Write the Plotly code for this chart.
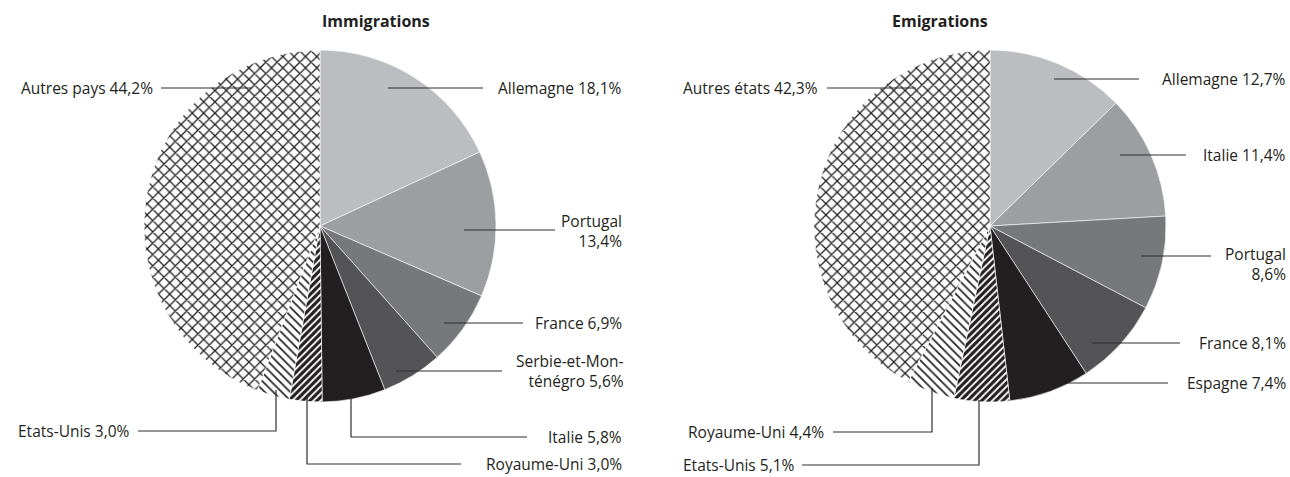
import plotly.graph_objects as go

W, H = 1290, 477

# --- DATA ---
imm_labels = ["Allemagne", "Portugal", "France", "Serbie-et-Monténégro", "Italie",
              "Royaume-Uni", "Etats-Unis", "Autres pays"]
imm_values = [18.1, 13.4, 6.9, 5.6, 5.8, 3.0, 3.0, 44.2]

emi_labels = ["Allemagne", "Italie", "Portugal", "France", "Espagne",
              "Etats-Unis", "Royaume-Uni", "Autres états"]
emi_values = [12.7, 11.4, 8.6, 8.1, 7.4, 5.1, 4.4, 42.3]

# display text (line breaks as in the print)
imm_text = ["Allemagne", "Portugal<br>", "France", "Serbie-et-Mon-<br>ténégro", "Italie",
            "Royaume-Uni", "Etats-Unis", "Autres pays"]
emi_text = ["Allemagne", "Italie", "Portugal<br>", "France", "Espagne",
            "Etats-Unis", "Royaume-Uni", "Autres états"]

# slice styling: 5 greys then two hatches then crosshatch
GREYS = ["#bcbdc0", "#9d9ea2", "#77787b", "#545456", "#231f20"]
INK = "#231f20"

# leader lines (pixel paths) and label anchors: (points, label_x, label_y, side)
imm_leaders = [
    ([(388, 88), (483, 88)], 624, 88, "right"),
    ([(464, 230), (555, 230)], 624, 231, "right"),
    ([(444, 323), (523, 323)], 624, 323, "right"),
    ([(396, 371), (502, 371)], 626, 371, "right"),
    ([(351, 398), (351, 437), (527, 437)], 624, 437, "right"),
    ([(307, 395), (307, 464), (461, 464)], 624, 464, "right"),
    ([(276, 390), (276, 431), (138, 431)], 132, 431, "left"),
    ([(252, 88), (161, 88)], 155, 88, "left"),
]
emi_leaders = [
    ([(1054, 79), (1139, 79)], 1288, 79, "right"),
    ([(1120, 155), (1186, 155)], 1288, 155, "right"),
    ([(1141, 256), (1211, 256)], 1288, 264, "right"),
    ([(1092, 343), (1180, 343)], 1288, 343, "right"),
    ([(1066, 383), (1168, 383)], 1288, 383, "right"),
    ([(979, 400), (979, 465), (802, 465)], 797, 465, "left"),
    ([(932, 388), (932, 432), (833, 432)], 826, 432, "left"),
    ([(916, 88), (827, 88)], 820, 88, "left"),
]

CENTERS = [(320, 226), (990, 226)]
R = 176
TITLES = ["Immigrations", "Emigrations"]


def px(x):
    return x / W


def py(y):
    return 1 - y / H


def fmt(v):
    return f"{v:.1f}%".replace(".", ",")


def pie_trace(values, names, cx, cy):
    colors = GREYS + ["#000000", "#ffffff", "#ffffff"]
    pattern = dict(
        shape=[""] * 5 + ["/", "\\", "x"],
        fgcolor=["#000000"] * 5 + ["#ffffff", INK, INK],
        bgcolor=GREYS + [INK, "#ffffff", "#ffffff"],
        size=[8] * 5 + [5, 6, 8],
        solidity=[0.3] * 5 + [0.35, 0.28, 0.3],
        fillmode="replace",
    )
    return go.Pie(
        values=values, labels=names, sort=False, direction="clockwise", rotation=0,
        textinfo="none", hoverinfo="label+percent", showlegend=False,
        marker=dict(colors=colors, pattern=pattern, line=dict(color="#ffffff", width=0.6)),
        domain=dict(x=[px(cx - R), px(cx + R)], y=[py(cy + R), py(cy - R)]),
    )


fig = go.Figure()
fig.add_trace(pie_trace(imm_values, imm_labels, *CENTERS[0]))
fig.add_trace(pie_trace(emi_values, emi_labels, *CENTERS[1]))

shapes, annotations = [], []
for leaders, texts, values in [(imm_leaders, imm_text, imm_values),
                               (emi_leaders, emi_text, emi_values)]:
    for (pts, lx, ly, side), name, v in zip(leaders, texts, values):
        path = "M " + " L ".join(f"{px(x)},{py(y)}" for x, y in pts)
        shapes.append(dict(type="path", path=path, xref="paper", yref="paper",
                           line=dict(color="#2e2e2e", width=1.2)))
        sep = "" if name.endswith("<br>") else " "
        annotations.append(dict(
            x=px(lx), y=py(ly), xref="paper", yref="paper", showarrow=False,
            text=f"{name}{sep}{fmt(v)}", align="right" if side == "right" else "left",
            xanchor="right", yanchor="middle", font=dict(size=15.5, color=INK)))

for (cx, _), t in zip(CENTERS, TITLES):
    annotations.append(dict(x=px(cx), y=py(21), xref="paper", yref="paper",
                            showarrow=False, text=f"<b>{t}</b>", yanchor="middle",
                            font=dict(size=16, color=INK)))

fig.update_layout(
    width=W, height=H, margin=dict(l=0, r=0, t=0, b=0),
    paper_bgcolor="#ffffff", plot_bgcolor="#ffffff",
    font=dict(family="Open Sans, Lato, sans-serif", color=INK),
    shapes=shapes, annotations=annotations,
)

fig.write_html("out.html", config={"displayModeBar": False},
               post_script="document.body.style.margin='0';")
